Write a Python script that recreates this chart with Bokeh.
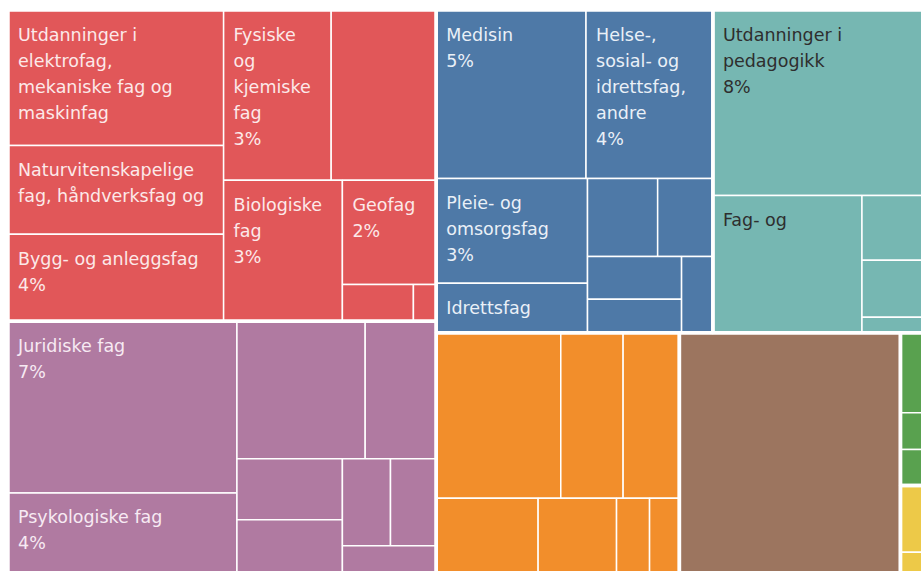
from bokeh.plotting import figure
from bokeh.models import Range1d, ColumnDataSource
from bokeh.core.properties import value
from bokeh.embed import file_html
from bokeh.resources import INLINE

# ---- data: share of candidates (%) per field, grouped by main field ----
group_names = ["Teknologi og naturvitenskap", "Samfunnsfag og juss", "Helse og medisin",
               "Pedagogikk", "Økonomi og administrasjon", "Humanistiske fag",
               "Primærnæringsfag", "Samferdsel og sikkerhet"]
group_colors = ["#E15759", "#B07AA1", "#4E79A7", "#76B7B2", "#F28E2B", "#9C755F", "#59A14F", "#EDC948"]
group_text_colors = ["#FCE9E9", "#F7EAF3", "#EAF0F7", "#2E2E2E", "#FFFFFF", "#FFFFFF", "#FFFFFF", "#333333"]

red_labels = ["Utdanninger i\nelektrofag,\nmekaniske fag og\nmaskinfag",
              "Naturvitenskapelige\nfag, håndverksfag og",
              "Bygg- og anleggsfag", "Fysiske\nog\nkjemiske\nfag", "", "Biologiske\nfag", "Geofag", "", ""]
red_values = [5.528, 3.611, 3.550, 3.460, 3.379, 3.169, 1.850, 0.495, 0.159]
red_show_pct = [False, False, True, True, False, True, True, False, False]

purple_labels = ["Juridiske fag", "Psykologiske fag", "", "", "", "", "", "", ""]
purple_values = [7.429, 3.704, 3.332, 1.846, 1.215, 1.173, 0.791, 0.752, 0.582]
purple_show_pct = [True, True, False, False, False, False, False, False, False]

blue_labels = ["Medisin", "Helse-,\nsosial- og\nidrettsfag,\nandre", "Pleie- og\nomsorgsfag",
               "Idrettsfag", "", "", "", "", ""]
blue_values = [4.770, 4.040, 2.997, 1.417, 1.034, 0.814, 0.762, 0.596, 0.452]
blue_show_pct = [True, True, True, False, False, False, False, False, False]

teal_labels = ["Utdanninger i\npedagogikk", "Fag- og", "", "", ""]
teal_values = [7.907, 3.873, 0.938, 0.826, 0.224]
teal_show_pct = [True, False, False, False, False]

orange_labels = ["", "", "", "", "", "", ""]
orange_values = [3.896, 1.950, 1.759, 1.546, 1.190, 0.501, 0.452]
orange_show_pct = [False] * 7

brown_labels = [""]
brown_values = [10.27]
brown_show_pct = [False]

green_labels = ["", "", "", ""]
green_values = [0.576, 0.264, 0.211, 0.047]
green_show_pct = [False] * 4

yellow_labels = ["", ""]
yellow_values = [0.481, 0.189]
yellow_show_pct = [False] * 2

# row structure of the treemap (number of items per strip, as Tableau laid them out)
top_rows = [2, 2, 1, 1, 1, 1]
group_rows = [[3, 2, 1, 1, 1, 1], [2, 2, 2, 2, 1], [2, 2, 2, 2, 1], [1, 1, 1, 2],
              [3, 1, 1, 2], [1], [1, 1, 1, 1], [1, 1]]

groups = [(red_labels, red_values, red_show_pct), (purple_labels, purple_values, purple_show_pct),
          (blue_labels, blue_values, blue_show_pct), (teal_labels, teal_values, teal_show_pct),
          (orange_labels, orange_values, orange_show_pct), (brown_labels, brown_values, brown_show_pct),
          (green_labels, green_values, green_show_pct), (yellow_labels, yellow_values, yellow_show_pct)]


def strip_layout(vals, x, y, w, h, counts):
    """Squarified-style strip layout: each strip goes along the shorter side."""
    total = sum(vals)
    scale = w * h / total
    rects = []
    i = 0
    for c in counts:
        part = vals[i:i + c]
        area = sum(part) * scale
        if w >= h:
            cw = area / h
            yy = y
            for v in part:
                hh = v * scale / cw
                rects.append((x, yy, x + cw, yy + hh))
                yy += hh
            x += cw
            w -= cw
        else:
            rh = area / w
            xx = x
            for v in part:
                ww = v * scale / rh
                rects.append((xx, y, xx + ww, y + rh))
                xx += ww
            y += rh
            h -= rh
        i += c
    return rects


W, H = 921, 571
TREE_X, TREE_Y, TREE_W, TREE_H = 7.5, 9.5, 930.5, 568.5

group_totals = [sum(g[1]) for g in groups]
group_rects = strip_layout(group_totals, TREE_X, TREE_Y, TREE_W, TREE_H, top_rows)

leaf = dict(left=[], right=[], top=[], bottom=[], color=[])
txt = dict(x=[], y=[], text=[], color=[])
FS = 17.5
LINE = 26
for gi, ((labels, vals, showp), grect) in enumerate(zip(groups, group_rects)):
    rects = strip_layout(vals, grect[0], grect[1], grect[2] - grect[0], grect[3] - grect[1], group_rows[gi])
    for lab, v, sp, r in zip(labels, vals, showp, rects):
        leaf["left"].append(r[0]); leaf["right"].append(r[2])
        leaf["top"].append(r[1]); leaf["bottom"].append(r[3])
        leaf["color"].append(group_colors[gi])
        lines = lab.split("\n") if lab else []
        if sp:
            lines.append(f"{round(v)}%")
        for k, line in enumerate(lines):
            txt["x"].append(r[0] + 10.0)
            txt["y"].append(r[1] + 24.5 + LINE * k)
            txt["text"].append(line)
            txt["color"].append(group_text_colors[gi])

p = figure(width=W, height=H, x_range=Range1d(0, W), y_range=Range1d(H, 0),
           toolbar_location=None, output_backend="svg", min_border=0,
           x_axis_location=None, y_axis_location=None)
p.grid.visible = False
p.outline_line_color = None
p.background_fill_color = "white"
p.border_fill_color = "white"

p.quad(left="left", right="right", top="top", bottom="bottom", fill_color="color",
       line_color="white", line_width=1.5, source=ColumnDataSource(leaf))
p.quad(left=[g[0] for g in group_rects], right=[g[2] for g in group_rects],
       top=[g[1] for g in group_rects], bottom=[g[3] for g in group_rects],
       fill_alpha=0, line_color="white", line_width=3.5)
p.text(x="x", y="y", text="text", text_color="color", source=ColumnDataSource(txt),
       text_font=value("DejaVu Sans"), text_font_size=f"{FS}px",
       text_baseline="alphabetic", text_align="left")

open("out.html", "w").write(file_html(p, INLINE))
